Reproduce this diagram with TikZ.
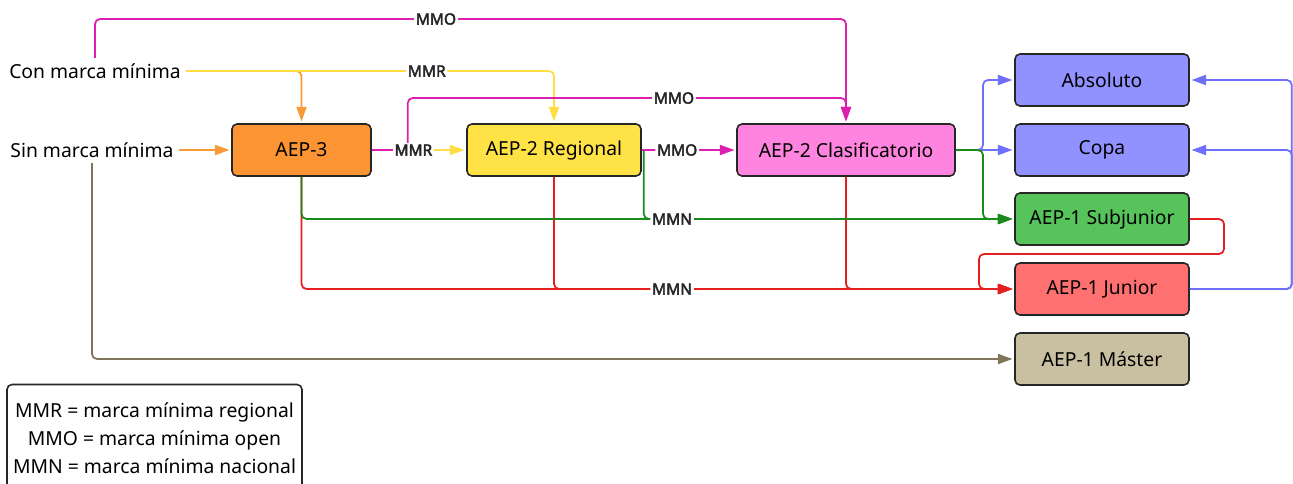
\documentclass[tikz,border=0pt]{standalone}
\usepackage{fontspec}
\setmainfont{Noto Sans}
\newfontfamily\lblfont{Noto Sans}[FakeBold=3]
\usetikzlibrary{arrows.meta,positioning}

\definecolor{fnar}{HTML}{FB9533}
\definecolor{fama}{HTML}{FFE246}
\definecolor{fros}{HTML}{FF84E0}
\definecolor{fazu}{HTML}{9191FF}
\definecolor{fver}{HTML}{56C35B}
\definecolor{froj}{HTML}{FF7171}
\definecolor{fmar}{HTML}{C9BFA1}
\definecolor{enar}{HTML}{F89A35}
\definecolor{eama}{HTML}{FFDD44}
\definecolor{eros}{HTML}{DD1FB0}
\definecolor{eazu}{HTML}{6E6EFF}
\definecolor{ever}{HTML}{1A8A1A}
\definecolor{eroj}{HTML}{E51F1F}
\definecolor{emar}{HTML}{807459}

\begin{document}
\begin{tikzpicture}[x=0.2mm,y=-0.2mm,
  box/.style={draw=black!85,line width=0.9pt,rounded corners=1mm,minimum height=1.04cm,inner sep=2pt,font=\fontsize{11}{13}\selectfont},
  txt/.style={inner sep=3pt,font=\fontsize{11}{13}\selectfont},
  lbl/.style={fill=white,inner sep=1pt,text=black!85,font=\lblfont\fontsize{8.8}{10}\selectfont},
  con/.style={line width=1pt,rounded corners=1mm,-{Triangle[length=2.9mm,width=2mm]},shorten >=1pt}]
  \useasboundingbox (0,0) rectangle (1293,484);

  \node[txt] (cmm) at (95,71) {Con marca mínima};
  \node[txt] (smm) at (92,150) {Sin marca mínima};

  \node[box,fill=fnar,minimum width=2.78cm] (aep3) at (301.5,150) {AEP-3};
  \node[box,fill=fama,minimum width=3.48cm] (reg) at (554,150) {AEP-2 Regional};
  \node[box,fill=fros,minimum width=4.36cm] (clas) at (846,150) {AEP-2 Clasificatorio};

  \node[box,fill=fazu,minimum width=3.48cm] (abs) at (1102,80) {Absoluto};
  \node[box,fill=fazu,minimum width=3.48cm] (copa) at (1102,150) {Copa};
  \node[box,fill=fver,minimum width=3.48cm] (sub) at (1102,219) {AEP-1 Subjunior};
  \node[box,fill=froj,minimum width=3.48cm] (jun) at (1102,289) {AEP-1 Junior};
  \node[box,fill=fmar,minimum width=3.48cm] (mas) at (1102,359) {AEP-1 Máster};

  \node[box,align=center,minimum width=5.9cm,minimum height=2.14cm,font=\fontsize{11}{15.9}\selectfont] (ley) at (154.5,438)
    {MMR = marca mínima regional\\MMO = marca mínima open\\MMN = marca mínima nacional};

  % entradas
  \draw[con,emar] (smm.south) |- (mas.west);
  \draw[con,enar] (smm.east) -- (aep3.west);
  \draw[con,enar] (cmm.east) -| (aep3.north);
  \draw[con,eama] (cmm.east) -| (reg.north) node[lbl,pos=.327] (l1) {MMR};
  \draw[con,eros] (cmm.north) |- (436,19) node[lbl] (l2) {MMO} -| (clas.north);

  % nacional
  \draw[con,eroj] (reg.south) |- (jun.west);
  \draw[con,eroj] (clas.south) |- (jun.west);
  \draw[con,eroj] (sub.east) -| (1224,254) -- (979,254) |- (jun.west);
  \draw[con,eroj] (aep3.south) |- (jun.west) node[lbl,pos=.76] (l3) {MMN};
  \draw[con,ever] (reg.east) ++(2,0) |- (sub.west);
  \draw[con,ever] (aep3.south) |- (sub.west) node[lbl,pos=.76] (l4) {MMN};

  % AEP-3 y AEP-2
  \draw[con,eama] (aep3.east) -- (reg.west);
  \draw[con,eros] (aep3.east) -- ++(36,0) |- (674,98) node[lbl] (l5) {MMO} -| (clas.north);
  \path (aep3.east) -- (reg.west) node[lbl,pos=.44] (l6) {MMR};
  \draw[con,eros] (reg.east) -- (clas.west) node[lbl,pos=.375] (l7) {MMO};

  % clasificatorio
  \draw[con,eazu] (clas.east) -| (983,115) |- (abs.west);
  \draw[con,eazu] (clas.east) -- (copa.west);
  \draw[con,ever] (clas.east) -| (983,185) |- (sub.west);

  % junior a absoluto y copa
  \draw[con,eazu] (jun.east) -- ++(102,0) |- (abs.east);
  \draw[con,eazu] (jun.east) -- ++(102,0) |- (copa.east);
\end{tikzpicture}
\end{document}
